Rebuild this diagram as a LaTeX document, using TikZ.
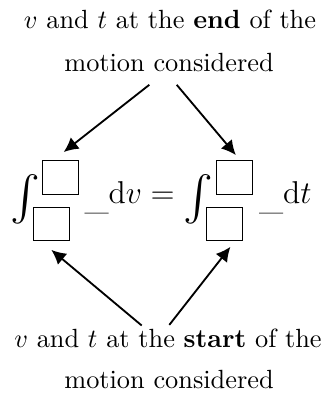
\documentclass[tikz,border=0pt]{standalone}
\usepackage{amsmath,amssymb}
\usepackage{tikz}
\usetikzlibrary{arrows.meta,positioning,calc}
\newcommand{\LimitBox}[2]{%
  \node[draw, rectangle, inner sep=0pt, minimum width=13.6pt, minimum height=12.7pt, line width=0.4pt] (#1) at (#2) {};
}

\begin{document}
\begin{tikzpicture}[x=0.38pt, y=0.38pt,
    lbl/.style={inner sep=0pt, anchor=base},
    eqn/.style={inner sep=0pt, anchor=base west, font=\fontsize{12.5}{15}\selectfont},
    bigint/.style={inner sep=0pt, font=\fontsize{17}{19}\selectfont},
    pointer/.style={-{Latex[length=5.5pt,width=5.5pt]}, line width=0.7pt}]
  \useasboundingbox (0,0) rectangle (323,-401);
  % labels above and below
  \node[lbl] (end1) at (170,-28.3) {$v$ and $t$ at the \textbf{end} of the};
  \node[lbl] (end2) at (169,-71.7) {motion considered};
  \node[lbl] (start1) at (168,-347.3) {$v$ and $t$ at the \textbf{start} of the};
  \node[lbl] (start2) at (169,-388.3) {motion considered};
  % left integral
  \node[bigint] (intv) at (25,-199) {$\int$};
  \LimitBox{vtop}{60.7,-177.4}
  \LimitBox{vbot}{51.2,-224.2}
  \node[eqn] (dv) at (84,-204) {\raisebox{-2pt}{\_}$\mathrm{d}v=$};
  % right integral
  \node[bigint] (intt) at (198.5,-199) {$\int$};
  \LimitBox{ttop}{234.3,-177.5}
  \LimitBox{tbot}{224.7,-224.2}
  \node[eqn] (dt) at (258.5,-204) {\raisebox{-2pt}{\_}$\mathrm{d}t$};
  % arrows
  \coordinate (e1) at ($(end2.south)+(-19.7,-12.3)$);
  \coordinate (e2) at ($(end2.south)+(7.7,-12.3)$);
  \coordinate (s1) at ($(start2.north)+(-27.3,44)$);
  \coordinate (s2) at ($(start2.north)+(0.3,44.6)$);
  \draw[pointer, shorten >=5pt] (e1) -- (vtop.113);
  \draw[pointer, shorten >=2.6pt] (e2) -- (ttop.71);
  \draw[pointer, shorten >=5pt] (s1) -- (vbot.240);
  \draw[pointer, shorten >=2.6pt] (s2) -- (tbot.-60);
\end{tikzpicture}
\end{document}
